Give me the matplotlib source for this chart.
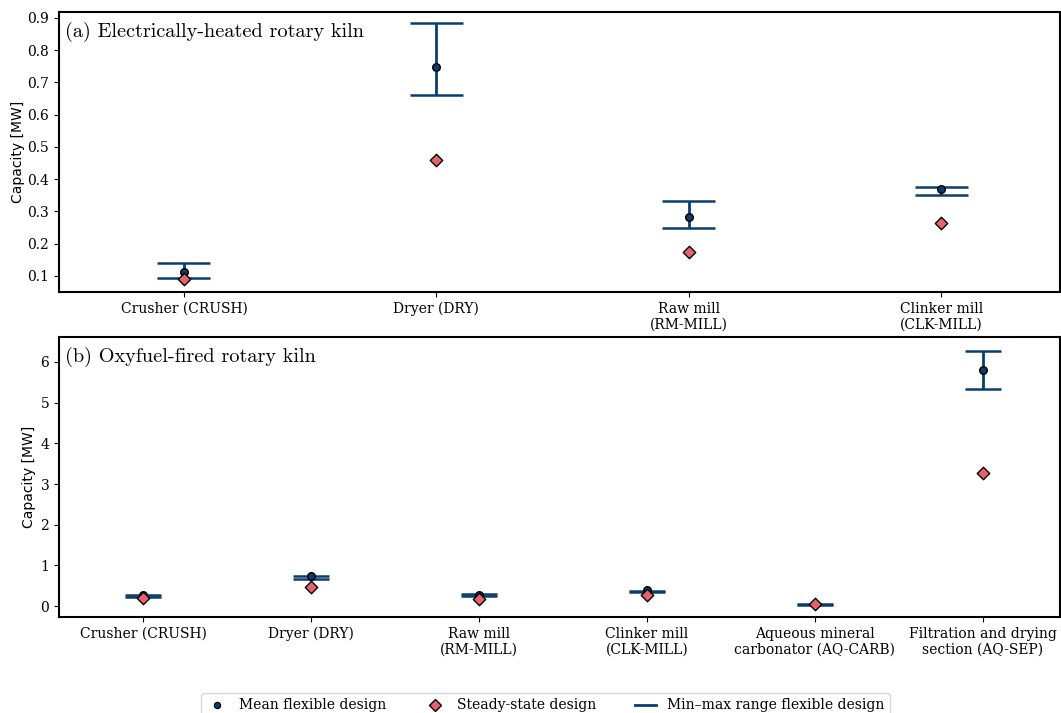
import matplotlib
matplotlib.use("Agg")
import matplotlib.pyplot as plt
from matplotlib.lines import Line2D

plt.rcParams['font.family'] = 'DejaVu Serif'
plt.rcParams['font.size'] = 10

# (a) electrically-heated rotary kiln
cats_a = ["Crusher (CRUSH)", "Dryer (DRY)", "Raw mill\n(RM-MILL)", "Clinker mill\n(CLK-MILL)"]
mean_a = [0.112, 0.748, 0.283, 0.371]
min_a = [0.094, 0.661, 0.249, 0.352]
max_a = [0.140, 0.884, 0.333, 0.377]
steady_a = [0.091, 0.460, 0.174, 0.263]

# (b) oxyfuel-fired rotary kiln
cats_b = ["Crusher (CRUSH)", "Dryer (DRY)", "Raw mill\n(RM-MILL)", "Clinker mill\n(CLK-MILL)",
          "Aqueous mineral\ncarbonator (AQ-CARB)", "Filtration and drying\nsection (AQ-SEP)"]
mean_b = [0.26, 0.73, 0.27, 0.39, 0.04, 5.80]
min_b = [0.23, 0.67, 0.25, 0.35, 0.03, 5.34]
max_b = [0.28, 0.75, 0.29, 0.38, 0.05, 6.28]
steady_b = [0.20, 0.46, 0.18, 0.26, 0.04, 3.28]

BLUE = '#0a3d6b'
PINK = '#e8616f'


def panel(ax, cats, mean, lo, hi, steady, title, pad):
    x = list(range(len(cats)))
    ax.vlines(x, lo, hi, color=BLUE, lw=2, zorder=2)
    ax.hlines(lo, [i - 0.105 for i in x], [i + 0.105 for i in x], color=BLUE, lw=1.8, zorder=2)
    ax.hlines(hi, [i - 0.105 for i in x], [i + 0.105 for i in x], color=BLUE, lw=1.8, zorder=2)
    ax.scatter(x, mean, s=30, marker='o', color=BLUE, edgecolor='black', lw=1, zorder=3)
    ax.scatter(x, steady, s=40, marker='D', color=PINK, edgecolor='black', lw=1, zorder=4)
    ax.set_xticks(x)
    ax.set_xticklabels(cats)
    ax.set_ylabel('Capacity [MW]', family='DejaVu Sans', labelpad=pad)
    ax.text(0.006, 0.965, title, transform=ax.transAxes, ha='left', va='top',
            fontsize=14.6, family='cmr10')
    for s in ax.spines.values():
        s.set_linewidth(1.5)


fig = plt.figure(figsize=(10.61, 7.13), dpi=100)
ax1 = fig.add_axes([0.0556, 0.5905, 0.9434, 0.3927])
ax2 = fig.add_axes([0.0556, 0.1346, 0.9434, 0.3928])

panel(ax1, cats_a, mean_a, min_a, max_a, steady_a, '(a) Electrically-heated rotary kiln', 1.5)
ax1.set_xlim(-0.495, 3.47)
ax1.set_ylim(0.0504, 0.9186)

panel(ax2, cats_b, mean_b, min_b, max_b, steady_b, '(b) Oxyfuel-fired rotary kiln', 3.5)
ax2.set_xlim(-0.5, 5.458)
ax2.set_ylim(-0.27, 6.615)

handles = [
    Line2D([], [], ls='none', marker='o', ms=4.5, color=BLUE, mec='black', mew=0.8),
    Line2D([], [], ls='none', marker='D', ms=6, color=PINK, mec='black'),
    Line2D([], [], color=BLUE, lw=2),
]
labels = ['Mean flexible design', 'Steady-state design', 'Min–max range flexible design']
fig.legend(handles, labels, loc='upper center', bbox_to_anchor=(0.514, 1 - 686 / 713), ncol=3,
           frameon=True, columnspacing=2.8, handlelength=1.5)

fig.savefig('out.png', dpi=100)
